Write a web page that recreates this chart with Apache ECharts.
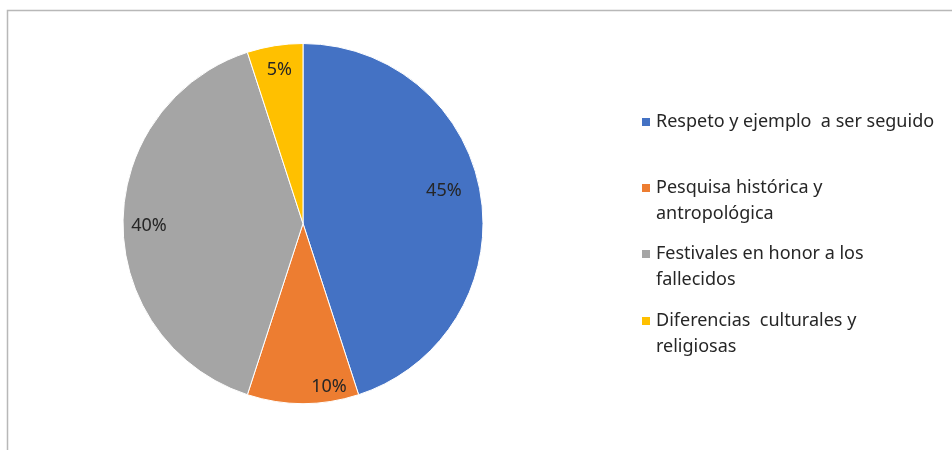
<!DOCTYPE html>
<html>
<head>
<meta charset="utf-8">
<script src="https://cdn.jsdelivr.net/npm/echarts@6/dist/echarts.min.js"></script>
<style>
html,body{margin:0;padding:0;background:#fff;}
#chart{width:952px;height:450px;}
</style>
</head>
<body>
<div id="chart"></div>
<script>
const categories = [
  'Respeto y ejemplo a ser seguido',
  'Pesquisa histórica y antropológica',
  'Festivales en honor a los fallecidos',
  'Diferencias culturales y religiosas'
];
const legendLines = [
  ['Respeto y ejemplo  a ser seguido'],
  ['Pesquisa histórica y', 'antropológica'],
  ['Festivales en honor a los', 'fallecidos'],
  ['Diferencias  culturales y', 'religiosas']
];
const values = [45, 10, 40, 5];
const colors = ['#4472C4', '#ED7D31', '#A5A5A5', '#FFC000'];
const labelOffsets = [[49, -18], [26, 70], [-61, 2], [-9, -62]];

const FONT = 'Noto Sans';
const LH = 26;
const legendTops = [109, 149, 215, 282];

const legends = categories.map((name, i) => {
  const multi = legendLines[i].length > 1;
  return {
    data: [name],
    left: 640,
    top: legendTops[i],
    padding: 0,
    itemWidth: 10,
    itemHeight: 10,
    itemGap: 0,
    icon: 'rect',
    selectedMode: false,
    formatter: () => (multi ? '\n' : '') + legendLines[i].join('\n'),
    textStyle: {
      fontFamily: FONT,
      fontSize: 18,
      color: '#262626',
      lineHeight: LH
    }
  };
});

const chart = echarts.init(document.getElementById('chart'));
chart.setOption({
  animation: false,
  color: colors,
  legend: legends,
  graphic: [{
    type: 'rect',
    shape: { x: 7.5, y: 10.5, width: 1200, height: 600 },
    style: { fill: 'none', stroke: '#b8b8b8', lineWidth: 1.5 },
    silent: true
  }],
  series: [{
    type: 'pie',
    center: [303, 223.5],
    radius: 180,
    startAngle: 90,
    clockwise: true,
    data: categories.map((name, i) => ({
      name: name,
      value: values[i],
      label: { offset: labelOffsets[i] }
    })),
    itemStyle: { borderColor: '#ffffff', borderWidth: 1 },
    label: {
      show: true,
      position: 'inside',
      formatter: '{c}%',
      fontFamily: FONT,
      fontSize: 18,
      color: '#262626'
    },
    labelLine: { show: false },
    emphasis: { disabled: true }
  }]
});
</script>
</body>
</html>
